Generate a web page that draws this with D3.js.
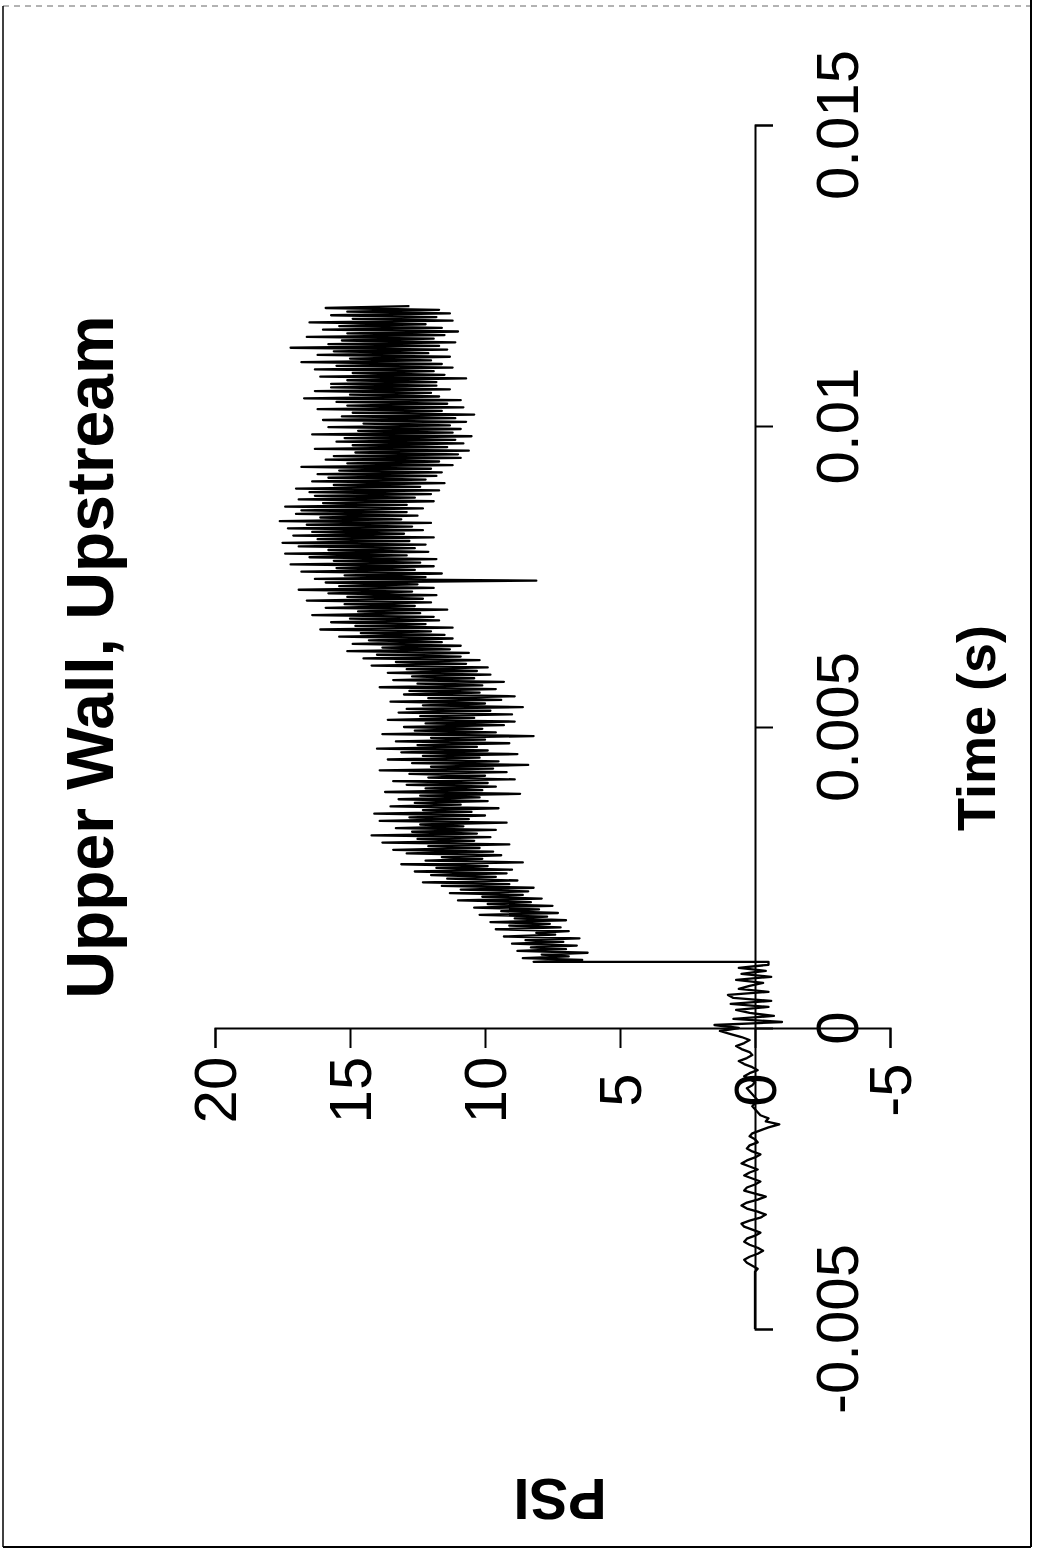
<!DOCTYPE html>
<html>
<head>
<meta charset="utf-8">
<script src="https://cdn.jsdelivr.net/npm/d3@7"></script>
<style>
  html, body { margin: 0; padding: 0; background: #fff; }
  svg { display: block; }
  text { font-family: "Liberation Sans", Arial, Helvetica, sans-serif; fill: #000; }
</style>
</head>
<body>
<div id="chart"></div>
<script>
// page is a scanned plot turned on its side: time runs bottom -> top, PSI runs right -> left
const W = 1037;
const H = 1552;

const title = 'Upper Wall, Upstream';
const timeLabel = 'Time (s)';
const psiLabel = 'PSI';

const timeTicks = [-0.005, 0, 0.005, 0.01, 0.015];
const timeTickLabels = ['-0.005', '0', '0.005', '0.01', '0.015'];
const psiTicks = [-5, 0, 5, 10, 15, 20];
const psiTickLabels = ['-5', '0', '5', '10', '15', '20'];

// pre-trigger record, sampled every 50 us from -5 ms
const preStart = -0.005;
const preStep = 0.00005;
const prePsi = [
  0, 0, 0, 0, 0, 0, 0, 0, 0, 0,
  0, 0, 0, 0, 0, 0, 0, 0, 0, 0,
  -0.1, 0.1, 0.3, 0.4, 0.2, -0.1, -0.3, -0.1, 0.2, 0.4,
  0.3, 0.0, -0.2, 0.1, 0.4, 0.5, 0.2, -0.2, -0.4, -0.1,
  0.3, 0.5, 0.3, -0.1, -0.4, 0.0, 0.4, 0.3, 0.0, -0.2,
  0.1, 0.4, 0.2, -0.1, 0.2, 0.5, 0.3, 0.0, -0.2, 0.1,
  0.3, 0.2, -0.1, 0.0, 0.2, 0.1, -0.2, -0.5, -0.9, -0.4,
  -0.5, -0.2, -0.1, 0.0, 0.1, 0.0, -0.1, 0.0, 0.1, 0.2,
  0.3, 0.1, 0.0, 0.2, 0.4, 0.2, -0.1, 0.1, 0.4, 0.6,
  0.3, 0.1, 0.2, 0.5, 0.7, 0.4, 0.2, 0.5, 0.9, 1.3,
  0.6, 1.5, -1.0, 0.8, -0.7, 0.2, 0.7, -0.5, 0.9, -0.6,
  0.8, 1.0, -0.5, 0.6, 0.2, -0.3, 0.7, -0.6, 0.5, -0.4, 0.6, -0.5,
  -0.5
];

// after the shock arrives, sampled every 30 us from 1.1 ms
const postStart = 0.0011;
const postStep = 0.00003;
const postPsi = [
  8.2, 6.4, 8.6, 6.9, 7.9, 6.2, 8.8, 7.0, 8.3, 6.6,
  9.0, 7.1, 8.5, 6.5, 9.3, 7.4, 8.1, 6.9, 9.6, 7.2,
  9.1, 7.6, 9.8, 7.0, 8.9, 7.7, 10.2, 7.3, 9.4, 8.0,
  10.4, 7.5, 9.9, 8.3, 11.0, 7.9, 10.1, 8.6, 11.3, 8.4,
  10.9, 8.2, 11.6, 9.1, 12.3, 8.8, 11.4, 9.6, 12.0, 9.2,
  12.6, 9.0, 11.8, 9.9, 13.1, 8.6, 12.2, 10.1, 11.6, 9.4,
  12.9, 9.7, 13.4, 10.2, 12.1, 9.1, 13.8, 10.4, 12.5, 9.8,
  14.2, 10.3, 12.7, 9.6, 13.3, 10.8, 12.4, 9.2, 13.9, 10.6,
  12.8, 10.0, 14.1, 10.5, 12.3, 9.5, 13.5, 10.9, 12.6, 9.9,
  13.2, 10.2, 12.4, 8.7, 13.7, 10.1, 12.2, 9.6, 12.9, 9.9,
  13.4, 8.9, 12.1, 10.0, 12.8, 9.2, 13.9, 9.7, 12.0, 8.4,
  12.7, 9.5, 13.6, 10.2, 12.3, 8.8, 13.1, 9.9, 14.0, 10.3,
  12.5, 9.1, 13.3, 10.0, 12.0, 8.2, 13.8, 9.6, 12.6, 10.1,
  13.0, 9.3, 12.2, 8.9, 13.6, 10.4, 12.4, 9.0, 13.2, 9.8,
  12.9, 8.6, 12.3, 10.0, 13.5, 9.4, 12.1, 8.9, 13.0, 10.2,
  12.8, 9.6, 13.9, 10.1, 12.5, 9.3, 13.4, 10.4, 12.7, 9.8,
  13.6, 10.3, 12.9, 9.9, 14.2, 10.7, 13.3, 10.2, 14.5, 10.9,
  14.0, 10.6, 15.1, 11.3, 13.8, 10.9, 14.9, 11.6, 14.3, 11.2,
  15.4, 11.5, 14.6, 12.0, 16.1, 11.2, 14.8, 12.2, 15.7, 11.7,
  15.0, 11.9, 16.4, 12.4, 14.7, 11.4, 15.9, 12.6, 15.2, 12.0,
  16.6, 12.3, 15.1, 11.8, 15.8, 12.7, 16.9, 11.9, 15.4, 12.5,
  15.9, 8.1, 16.3, 12.2, 15.2, 11.6, 16.8, 12.6, 15.5, 11.9,
  17.2, 12.4, 15.6, 11.8, 16.5, 12.9, 17.4, 12.1, 15.8, 12.6,
  16.9, 12.2, 17.5, 12.8, 16.2, 11.9, 17.1, 13.0, 16.4, 12.3,
  17.3, 12.7, 16.6, 12.0, 17.6, 13.1, 16.1, 12.5, 17.0, 12.9,
  16.8, 12.3, 17.4, 12.9, 16.0, 11.9, 16.9, 12.6, 16.3, 12.0,
  16.5, 11.7, 17.0, 12.4, 15.6, 11.5, 16.4, 12.2, 15.8, 11.8,
  16.2, 11.6, 15.4, 12.0, 16.8, 11.2, 15.1, 11.7, 15.9, 10.9,
  15.6, 11.0, 14.8, 10.6, 16.3, 11.4, 14.9, 10.8, 15.5, 11.1,
  15.2, 10.5, 16.4, 11.2, 14.7, 10.9, 15.8, 11.3, 14.5, 10.7,
  16.0, 11.1, 15.3, 10.4, 14.9, 11.6, 16.2, 10.8, 15.1, 11.4,
  15.5, 10.9, 16.7, 11.7, 15.0, 12.0, 16.3, 11.3, 15.7, 11.8,
  15.7, 11.8, 15.1, 10.7, 16.1, 11.5, 14.9, 11.9, 16.3, 11.2,
  15.5, 11.6, 16.8, 12.0, 15.0, 11.3, 16.2, 12.1, 15.6, 11.4,
  17.2, 11.7, 15.8, 11.1, 15.3, 11.9, 16.6, 11.5, 15.1, 11.0,
  16.0, 11.6, 15.4, 12.2, 16.5, 11.2, 14.9, 11.8, 15.7, 11.3,
  15.1, 11.7, 15.9, 12.8
];

const points = [
  ...prePsi.map((p, i) => ({ t: preStart + i * preStep, p })),
  ...postPsi.map((p, i) => ({ t: postStart + i * postStep, p }))
];

const svg = d3.select('#chart').append('svg').attr('width', W).attr('height', H);

// page frame
const frame = svg.append('g').attr('stroke', '#000').attr('fill', 'none');
frame.append('line').attr('x1', 3).attr('y1', 6).attr('x2', 1031).attr('y2', 6)
  .attr('stroke-width', 1).attr('stroke-dasharray', '6 5').attr('stroke', '#666');
frame.append('line').attr('x1', 1031).attr('y1', 0).attr('x2', 1031).attr('y2', 1547).attr('stroke-width', 2);
frame.append('line').attr('x1', 3).attr('y1', 1547).attr('x2', 1031).attr('y2', 1547).attr('stroke-width', 2);
frame.append('line').attr('x1', 3).attr('y1', 6).attr('x2', 3).attr('y2', 1547).attr('stroke-width', 1.5);

const yTime = d3.scaleLinear().domain([-0.005, 0.015]).range([1329, 125]);
const xPsi = d3.scaleLinear().domain([-5, 20]).range([890, 215]);

// time axis sits on PSI = 0, ticks point right
const timeAxis = svg.append('g')
  .attr('transform', `translate(${xPsi(0)},0)`)
  .call(d3.axisRight(yTime).tickValues(timeTicks).tickSize(18).tickSizeOuter(18).tickFormat(''));

// PSI axis sits on t = 0, ticks point down
const psiAxis = svg.append('g')
  .attr('transform', `translate(0,${yTime(0)})`)
  .call(d3.axisBottom(xPsi).tickValues(psiTicks).tickSize(20).tickSizeOuter(20).tickFormat(''));

[timeAxis, psiAxis].forEach((ax) => {
  ax.selectAll('path, line').attr('stroke', '#000').attr('stroke-width', 2);
});

// trace
const line = d3.line()
  .x((d) => xPsi(d.p))
  .y((d) => yTime(d.t));

svg.append('path')
  .datum(points)
  .attr('d', line)
  .attr('fill', 'none')
  .attr('stroke', '#000')
  .attr('stroke-width', 2.3)
  .attr('stroke-linejoin', 'round');

// tick labels, rotated with the page
svg.append('g')
  .selectAll('text')
  .data(timeTicks)
  .enter()
  .append('text')
  .attr('transform', (d) => `translate(858,${yTime(d)}) rotate(-90)`)
  .attr('text-anchor', 'middle')
  .attr('font-size', 60)
  .text((d, i) => timeTickLabels[i]);

svg.append('g')
  .selectAll('text')
  .data(psiTicks)
  .enter()
  .append('text')
  .attr('transform', (d) => `translate(${xPsi(d) + 21},1090) rotate(-90)`)
  .attr('text-anchor', 'middle')
  .attr('font-size', 60)
  .text((d, i) => psiTickLabels[i]);

// titles
svg.append('text')
  .attr('transform', 'translate(113,657) rotate(-90)')
  .attr('text-anchor', 'middle')
  .attr('font-size', 66)
  .attr('font-weight', 'bold')
  .text(title);

svg.append('text')
  .attr('transform', 'translate(995,728) rotate(-90)')
  .attr('text-anchor', 'middle')
  .attr('font-size', 54)
  .attr('font-weight', 'bold')
  .text(timeLabel);

svg.append('text')
  .attr('transform', 'translate(560,1479) rotate(180)')
  .attr('text-anchor', 'middle')
  .attr('font-size', 58)
  .attr('font-weight', 'bold')
  .text(psiLabel);
</script>
</body>
</html>
